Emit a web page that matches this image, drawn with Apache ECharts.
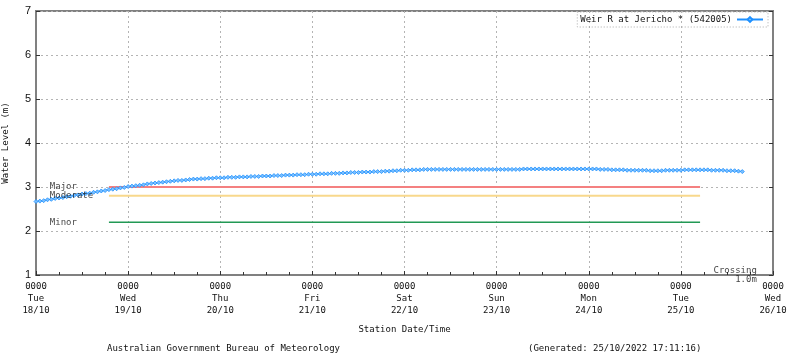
<!DOCTYPE html>
<html>
<head>
<meta charset="utf-8">
<script src="https://cdn.jsdelivr.net/npm/echarts@6/dist/echarts.min.js"></script>
<style>html,body{margin:0;padding:0;background:#fff}#c{width:800px;height:358px}</style>
</head>
<body>
<div id="c"></div>
<script>
// Tick labels (one per day, 0000 hrs)
const tickTimes = ['0000','0000','0000','0000','0000','0000','0000','0000','0000'];
const tickDays = ['Tue','Wed','Thu','Fri','Sat','Sun','Mon','Tue','Wed'];
const tickDates = ['18/10','19/10','20/10','21/10','22/10','23/10','24/10','25/10','26/10'];
const yTicks = [1,2,3,4,5,6,7];

// Hourly water level readings (m) starting 18/10 00:00
const startHour = 0;
const day1 = [2.67,2.68,2.69,2.71,2.72,2.74,2.75,2.76,2.78,2.79,2.81,2.82,2.84,2.85,2.86,2.88,2.89,2.91,2.92,2.94,2.95,2.96,2.98,2.99];
const day2 = [3.01,3.02,3.03,3.04,3.05,3.07,3.08,3.09,3.10,3.11,3.12,3.13,3.14,3.15,3.15,3.16,3.17,3.18,3.18,3.19,3.19,3.20,3.20,3.21];
const day3 = [3.21,3.21,3.22,3.22,3.22,3.23,3.23,3.23,3.24,3.24,3.24,3.25,3.25,3.25,3.26,3.26,3.26,3.27,3.27,3.27,3.28,3.28,3.28,3.29];
const day4 = [3.29,3.29,3.30,3.30,3.30,3.31,3.31,3.31,3.32,3.32,3.33,3.33,3.33,3.34,3.34,3.34,3.35,3.35,3.35,3.36,3.36,3.37,3.37,3.38];
const day5 = [3.38,3.38,3.39,3.39,3.39,3.40,3.40,3.40,3.40,3.40,3.40,3.40,3.40,3.40,3.40,3.40,3.40,3.40,3.40,3.40,3.40,3.40,3.40,3.40];
const day6 = [3.40,3.40,3.40,3.40,3.40,3.40,3.40,3.41,3.41,3.41,3.41,3.41,3.41,3.41,3.41,3.41,3.41,3.41,3.41,3.41,3.41,3.41,3.41,3.41];
const day7 = [3.41,3.41,3.41,3.40,3.40,3.40,3.39,3.39,3.39,3.39,3.38,3.38,3.38,3.38,3.38,3.38,3.37,3.37,3.37,3.37,3.38,3.38,3.38,3.38];
const day8 = [3.38,3.39,3.39,3.39,3.39,3.39,3.39,3.39,3.38,3.38,3.38,3.38,3.37,3.37,3.37,3.36,3.35];

// Flood class thresholds
const thresholdNames = ['Major','Moderate','Minor'];
const thresholdValues = [3.0, 2.8, 2.2];
const thresholdColors = ['#f48080','#f8d88c','#229955'];
const thresholdStart = 19;   // hours from 18/10 00:00
const thresholdEnd = 173;
const labelHour = 3.6;
const crossingLabel = 'Crossing\n1.0m';
const crossingValue = 1.0;
const crossingHour = 187.8;

const seriesName = 'Weir R at Jericho * (542005)';

const levels = [].concat(day1,day2,day3,day4,day5,day6,day7,day8);
const levelData = levels.map((v,i)=>[startHour+i, v]);

const FONT = 'DejaVu Sans Mono';
const TXT = '#111';
const gridLine = {show:true, lineStyle:{color:'#b4b4b4', type:[2,3], width:1}};

const series = [{
  name: seriesName, type:'line', data: levelData,
  showAllSymbol:true, symbol:'diamond', symbolSize:4,
  lineStyle:{color:'#1e90ff', width:1},
  itemStyle:{color:'#7cc0ff', borderColor:'#1e90ff', borderWidth:0.8},
  z:5, animation:false
}];
thresholdNames.forEach((n,i)=>{
  series.push({
    name:n, type:'line', symbol:'none', animation:false, z:3,
    data:[[thresholdStart, thresholdValues[i]],[thresholdEnd, thresholdValues[i]]],
    lineStyle:{color:thresholdColors[i], width: i===2 ? 1.5 : 2}
  });
});
series.push({
  name:'labels', type:'scatter', symbolSize:0, animation:false, z:6,
  data: thresholdNames.map((n,i)=>({value:[labelHour, thresholdValues[i]], name:n}))
    .concat([{value:[crossingHour, crossingValue], name:crossingLabel,
      label:{position:'left', align:'right', distance:0}}]),
  label:{show:true, position:'right', distance:0, formatter:p=>p.name,
    fontFamily:FONT, fontSize:9, color:TXT, lineHeight:9}
});

const chart = echarts.init(document.getElementById('c'), null, {renderer:'canvas'});
chart.setOption({
  animation:false,
  backgroundColor:'#fff',
  textStyle:{fontFamily:FONT},
  grid:{left:36, right:27, top:11, bottom:83, show:true, borderColor:'#808080', borderWidth:2,
    containLabel:false, outerBoundsMode:'none'},
  legend:{
    data:[seriesName], right:32, top:12, align:'right',
    borderColor:'#aaa', borderWidth:1, borderType:[1,2],
    padding:[3,4,3,3], itemWidth:26, itemHeight:6, itemGap:5,
    textStyle:{fontFamily:FONT, fontSize:9, color:TXT}
  },
  title:[
    {text:'Australian Government Bureau of Meteorology', left:107, top:344,
      textStyle:{fontFamily:FONT, fontSize:9, fontWeight:'normal', color:TXT}, padding:0},
    {text:'(Generated: 25/10/2022 17:11:16)', left:528, top:344,
      textStyle:{fontFamily:FONT, fontSize:9, fontWeight:'normal', color:TXT}, padding:0}
  ],
  xAxis:{
    type:'value', min:0, max:192, interval:24,
    name:'Station Date/Time', nameLocation:'middle', nameGap:50,
    nameTextStyle:{fontFamily:FONT, fontSize:9, color:TXT},
    axisLine:{show:true, lineStyle:{color:'#808080', width:2}},
    axisTick:{show:true, inside:true, length:4, lineStyle:{color:'#333'}},
    minorTick:{show:true, splitNumber:4, length:3, lineStyle:{color:'#333'}},
    splitLine:gridLine,
    axisLabel:{fontFamily:FONT, fontSize:9, color:TXT, lineHeight:12, margin:6,
      showMinLabel:true, showMaxLabel:true,
      formatter:v=>{const i=Math.round(v/24); return tickTimes[i]+'\n'+tickDays[i]+'\n'+tickDates[i];}}
  },
  yAxis:[{
    type:'value', min:yTicks[0], max:yTicks[yTicks.length-1], interval:1,
    name:'Water Level (m)', nameLocation:'middle', nameGap:26,
    nameTextStyle:{fontFamily:FONT, fontSize:9, color:TXT},
    axisLine:{show:true, lineStyle:{color:'#808080', width:2}},
    axisTick:{show:true, inside:true, length:4, lineStyle:{color:'#333'}},
    splitLine:gridLine,
    axisLabel:{fontFamily:'Liberation Sans', fontSize:11, color:TXT, margin:5}
  },{
    type:'value', min:yTicks[0], max:yTicks[yTicks.length-1], interval:1, position:'right',
    axisLine:{show:true, lineStyle:{color:'#808080', width:2}},
    axisTick:{show:true, inside:true, length:4, lineStyle:{color:'#333'}},
    splitLine:{show:false}, axisLabel:{show:false}
  }],
  series: series
});
</script>
</body>
</html>
